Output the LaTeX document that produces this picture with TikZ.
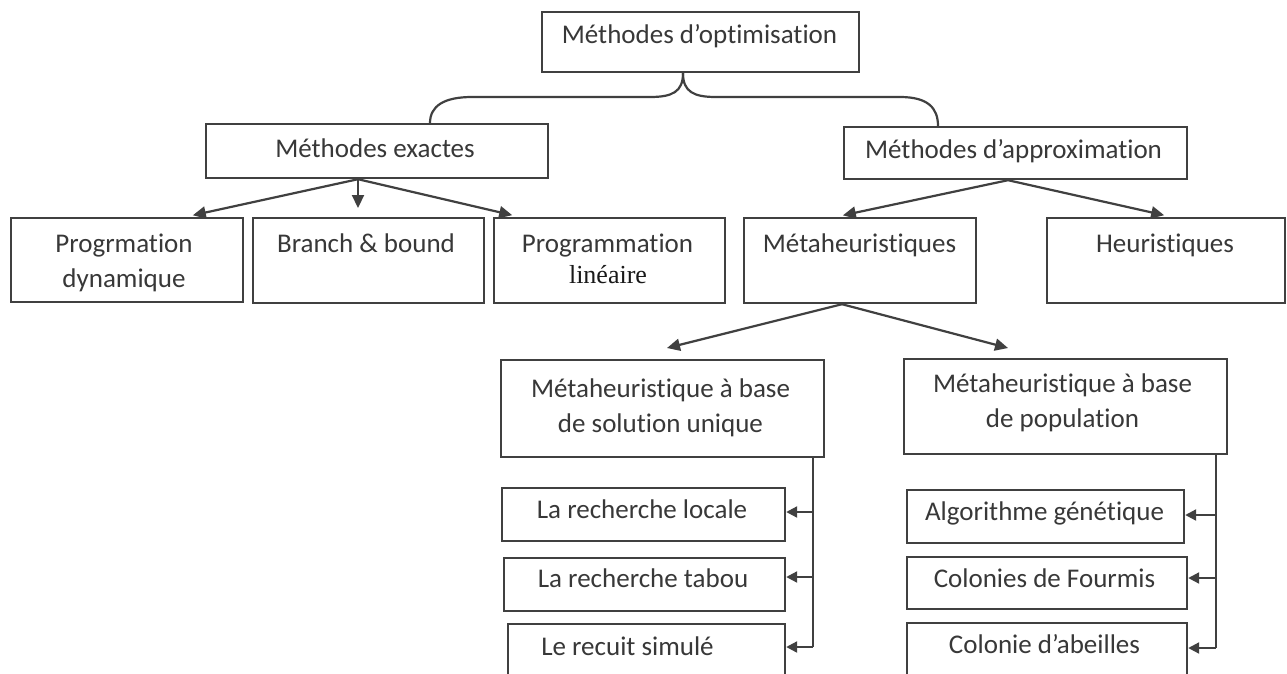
\documentclass[tikz,border=0pt]{standalone}
\usepackage{fontspec}
\setmainfont{Carlito}[Ligatures=NoCommon]
\newfontfamily\tnr{Liberation Serif}
\usetikzlibrary{arrows.meta}
\begin{document}
\begin{tikzpicture}[x=1pt,y=-1pt,
  box/.style={draw=black!75, line width=2.2pt, inner sep=0pt, anchor=north west},
  lbl/.style={anchor=base, font=\fontsize{27}{32}\selectfont, text=black!78, inner sep=0pt},
  conn/.style={draw=black!75, line width=2.2pt},
  arr/.style={conn, -{Triangle[length=13pt,width=12pt]}},
  sarr/.style={conn, -{Triangle[length=11pt,width=11pt]}}]
\clip (0,0) rectangle (1287,673);
\fill[white] (0,0) rectangle (1287,673);
% boxes
\node[box, minimum width=317pt, minimum height=60pt] (top) at (541,11) {};
\node[box, minimum width=342pt, minimum height=54pt] (exa) at (205,123) {};
\node[box, minimum width=343pt, minimum height=52pt] (app) at (843,126) {};
\node[box, minimum width=232pt, minimum height=84pt] (pd) at (10,217) {};
\node[box, minimum width=231pt, minimum height=85pt] (bb) at (252,217) {};
\node[box, minimum width=231pt, minimum height=85pt] (pl) at (493,217) {};
\node[box, minimum width=232pt, minimum height=85pt] (meta) at (743,217) {};
\node[box, minimum width=238pt, minimum height=85pt] (heu) at (1046,217) {};
\node[box, minimum width=323pt, minimum height=97pt] (sol) at (500,359) {};
\node[box, minimum width=323pt, minimum height=95pt] (pop) at (903,358) {};
\node[box, minimum width=283pt, minimum height=53pt] (loc) at (501,487) {};
\node[box, minimum width=281pt, minimum height=53pt] (tab) at (503,557) {};
\node[box, minimum width=277pt, minimum height=80pt] (rec) at (507,623) {};
\node[box, minimum width=277pt, minimum height=53pt] (gen) at (906,489) {};
\node[box, minimum width=280pt, minimum height=52pt] (fou) at (906,556) {};
\node[box, minimum width=280pt, minimum height=80pt] (abe) at (906,622) {};
% texts
\node[lbl] (tTop) at (699.5,43) {Méthodes d’optimisation};
\node[lbl] (tExa) at (375,157) {Méthodes exactes};
\node[lbl] (tApp) at (1013.5,158) {Méthodes d’approximation};
\node[lbl] (tPd1) at (124,252) {Progrmation};
\node[lbl] (tPd2) at (124,287) {dynamique};
\node[lbl] (tBb) at (366,252) {Branch \& bound};
\node[lbl] (tPl1) at (607.5,252) {Programmation};
\node[lbl, font=\tnr\fontsize{26}{30}\selectfont, text=black!90] (tPl2) at (608,283) {linéaire};
\node[lbl] (tMeta) at (859.5,252) {Métaheuristiques};
\node[lbl] (tHeu) at (1165,252) {Heuristiques};
\node[lbl] (tSol1) at (660.5,397) {Métaheuristique à base};
\node[lbl] (tSol2) at (660.5,432) {de solution unique};
\node[lbl] (tPop1) at (1062.5,392) {Métaheuristique à base};
\node[lbl] (tPop2) at (1062.5,427) {de population};
\node[lbl] (tLoc) at (642,518) {La recherche locale};
\node[lbl] (tTab) at (643,587) {La recherche tabou};
\node[lbl] (tRec) at (627.5,655) {Le recuit simulé};
\node[lbl] (tGen) at (1044.5,520) {Algorithme génétique};
\node[lbl] (tFou) at (1044.5,587) {Colonies de Fourmis};
\node[lbl] (tAbe) at (1044.5,653) {Colonie d’abeilles};
% brace
\coordinate (bTop) at (top.south -| 683,0);
\coordinate (bL) at (exa.north -| 430,0);
\coordinate (bR) at (app.north -| 938,0);
\draw[conn] (bTop) .. controls (683,92) and (672,97) .. (650,97) -- (472,97)
  .. controls (444,97) and (430,106) .. (bL);
\draw[conn] (bTop) .. controls (683,92) and (694,97) .. (716,97) -- (900,97)
  .. controls (928,97) and (938,108) .. (bR);
% exact methods arrows
\coordinate (eS) at (exa.south -| 358,0);
\coordinate (e1) at (pd.north -| 185,0);
\coordinate (e2) at (bb.north -| 358,0);
\coordinate (e3) at (pl.north -| 520,0);
\draw[arr, shorten >=8pt] (eS) -- (e1);
\draw[arr, shorten >=9pt] (eS) -- (e2);
\draw[arr, shorten >=8pt] (eS) -- (e3);
% approximation arrows
\coordinate (aS) at (app.south -| 1008,0);
\coordinate (a1) at (meta.north -| 835,0);
\coordinate (a2) at (heu.north -| 1172,0);
\draw[arr, shorten >=8pt] (aS) -- (a1);
\draw[arr, shorten >=8pt] (aS) -- (a2);
% metaheuristics arrows
\coordinate (mS) at (meta.south -| 842,0);
\coordinate (m1) at (667,348);
\coordinate (m2) at (1008,348);
\draw[arr] (mS) -- (m1);
\draw[arr] (mS) -- (m2);
% single-solution trunk
\coordinate (sT) at (sol.south -| 813,0);
\draw[conn] (sT) -- (813,647);
\draw[sarr] (813,512) -- (loc.east |- 0,512);
\draw[sarr] (813,577) -- (tab.east |- 0,577);
\draw[sarr] (813,647) -- (rec.east |- 0,647);
% population trunk
\coordinate (pT) at (pop.south -| 1216,0);
\draw[conn] (pT) -- (1216,648);
\draw[sarr] (1216,515) -- (gen.east |- 0,515);
\draw[sarr] (1216,578) -- (fou.east |- 0,578);
\draw[sarr] (1216,648) -- (abe.east |- 0,648);
\end{tikzpicture}
\end{document}
